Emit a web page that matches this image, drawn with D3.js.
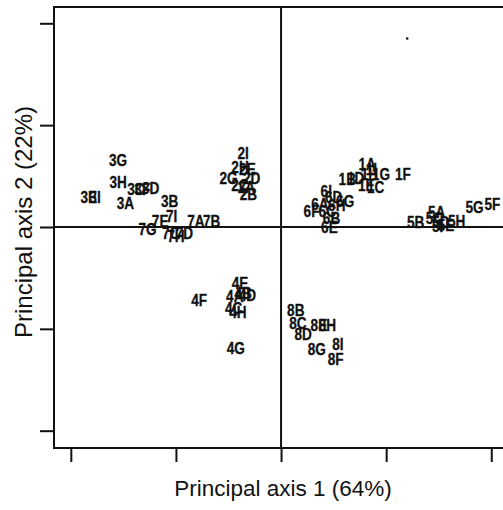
<!DOCTYPE html>
<html>
<head>
<meta charset="utf-8">
<script src="https://cdn.jsdelivr.net/npm/d3@7"></script>
<style>
  html, body { margin: 0; padding: 0; background: #fff; }
  svg { display: block; }
  .pt { font-family: "Liberation Sans", Arial, Helvetica, sans-serif; font-size: 17px; font-weight: bold; fill: #111; stroke: #111; stroke-width: 0.3px; }
  .ttl { font-family: "Liberation Sans", Arial, Helvetica, sans-serif; font-size: 22.5px; fill: #111; }
</style>
</head>
<body>
<svg id="chart" width="503" height="510"></svg>
<script>
// Sample labels (group number + letter) and their scores on the first two principal axes
const labels = [
  "3G","3H","3E","3I","3A","3C","3F","3D","3B",
  "7G","7E","7I","7C","7H","7D","7A","7B",
  "2I","2H","2E","2G","2D","2C","2A","2B",
  "1A","1I","1H","1G","1B","1D","1E","1C","1F",
  "6I","6D","6A","6G","6H","6F","6C","6B","6E",
  "5B","5A","5C","5D","5E","5I","5H","5G","5F",
  "4F","4E","4B","4D","4A","4C","4H","4G",
  "8B","8C","8E","8H","8D","8G","8I","8F"
];
const axis1 = [
  -1.55,-1.55,-1.83,-1.77,-1.48,-1.38,-1.32,-1.24,-1.06,
  -1.27,-1.15,-1.04,-1.05,-1.00,-0.92,-0.81,-0.66,
  -0.36,-0.39,-0.32,-0.50,-0.28,-0.39,-0.33,-0.31,
  0.82,0.86,0.84,0.95,0.63,0.71,0.81,0.90,1.16,
  0.43,0.50,0.37,0.61,0.53,0.29,0.44,0.48,0.46,
  1.28,1.48,1.46,1.52,1.57,1.49,1.67,1.84,2.01,
  -0.78,-0.39,-0.36,-0.32,-0.44,-0.45,-0.41,-0.43,
  0.14,0.16,0.36,0.44,0.21,0.34,0.54,0.52
];
const axis2 = [
  0.66,0.44,0.30,0.30,0.24,0.37,0.37,0.38,0.26,
  -0.02,0.06,0.11,-0.06,-0.09,-0.06,0.06,0.06,
  0.73,0.59,0.57,0.48,0.48,0.41,0.39,0.32,
  0.62,0.57,0.52,0.52,0.47,0.48,0.41,0.39,0.52,
  0.35,0.30,0.23,0.26,0.22,0.16,0.16,0.09,0.00,
  0.05,0.15,0.09,0.05,0.02,0.01,0.06,0.20,0.23,
  -0.72,-0.55,-0.65,-0.67,-0.68,-0.79,-0.83,-1.19,
  -0.81,-0.94,-0.96,-0.96,-1.05,-1.20,-1.15,-1.30
];
// Lone unlabelled point near the top of the plot
const strayX = [1.20];
const strayY = [1.85];

const xTicks = [-2, -1, 0, 1, 2];
const yTicks = [-2, -1, 0, 1, 2];
const xTitle = "Principal axis 1 (64%)";
const yTitle = "Principal axis 2  (22%)";

const svg = d3.select("#chart");
const padL = 54, padR = 506, padT = 7, padB = 448;

const x = d3.scaleLinear().domain([-2.16, 2.14]).range([padL, padR]);
const y = d3.scaleLinear().domain([-2.17, 2.16]).range([padB, padT]);

// Axes: tick marks only, no tick labels
const gx = svg.append("g")
  .attr("transform", `translate(0,${padB})`)
  .call(d3.axisBottom(x).tickValues(xTicks).tickSize(14).tickFormat(""));
const gy = svg.append("g")
  .attr("transform", `translate(${padL},0)`)
  .call(d3.axisLeft(y).tickValues(yTicks).tickSize(14).tickFormat(""));
[gx, gy].forEach(g => {
  g.select(".domain").remove();
  g.selectAll(".tick line").attr("stroke", "#111").attr("stroke-width", 2);
});

// Plot frame
svg.append("rect")
  .attr("x", padL).attr("y", padT)
  .attr("width", padR - padL).attr("height", padB - padT)
  .attr("fill", "none").attr("stroke", "#111").attr("stroke-width", 2);

// Reference lines through the origin
svg.append("line")
  .attr("x1", x(0)).attr("x2", x(0)).attr("y1", padT).attr("y2", padB)
  .attr("stroke", "#111").attr("stroke-width", 2);
svg.append("line")
  .attr("x1", padL).attr("x2", padR).attr("y1", y(0)).attr("y2", y(0))
  .attr("stroke", "#111").attr("stroke-width", 2);

// Sample labels, set in a condensed bold face
const pts = labels.map((l, i) => ({ l, a: axis1[i], b: axis2[i] }));
svg.append("g").selectAll("text")
  .data(pts).join("text")
  .attr("class", "pt")
  .attr("transform", d => `translate(${x(d.a)},${y(d.b)}) scale(0.8,1)`)
  .attr("text-anchor", "middle")
  .attr("dominant-baseline", "central")
  .text(d => d.l);

svg.append("g").selectAll("circle")
  .data(strayX.map((v, i) => ({ a: v, b: strayY[i] }))).join("circle")
  .attr("cx", d => x(d.a)).attr("cy", d => y(d.b)).attr("r", 1.3).attr("fill", "#111");

// Axis titles
svg.append("text").attr("class", "ttl")
  .attr("x", x(0) + 2).attr("y", 496)
  .attr("text-anchor", "middle")
  .text(xTitle);
svg.append("text").attr("class", "ttl")
  .style("font-size", "24px")
  .attr("transform", `translate(32,222) rotate(-90)`)
  .attr("text-anchor", "middle")
  .text(yTitle);
</script>
</body>
</html>
